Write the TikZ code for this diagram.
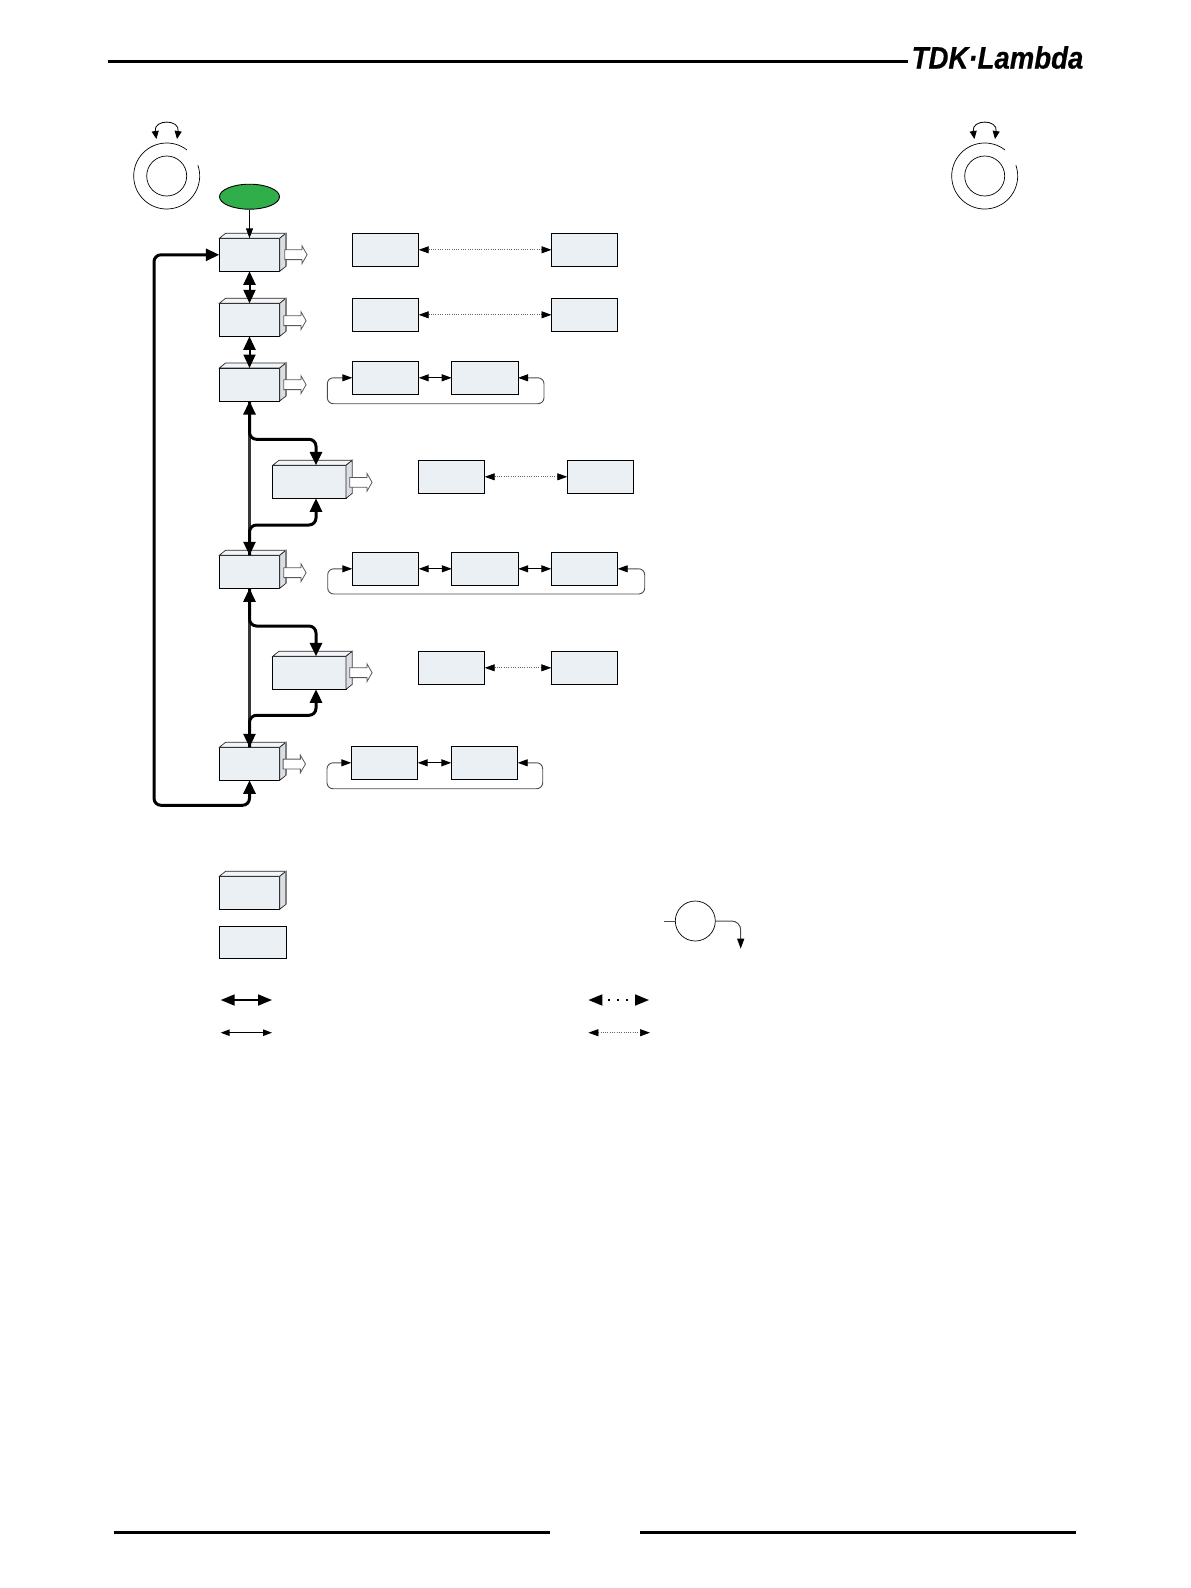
\documentclass[tikz,border=0pt]{standalone}
\usepackage{fontspec}
\newfontfamily\logofont{Liberation Sans}[BoldItalicFeatures={FakeBold=0.6}]
\usetikzlibrary{arrows.meta,shapes.arrows,shapes.geometric}
\definecolor{boxfill}{HTML}{EBF0F5}
\definecolor{startgreen}{HTML}{2FAE49}
\tikzset{
    bigtip/.tip={Triangle[length=13.5pt,width=12pt,color=black]},
    smalltip/.tip={Triangle[length=10pt,width=7pt,color=black]},
    flatbox/.style={draw,line width=0.9pt,fill=boxfill,inner sep=0pt,outer sep=0pt,minimum width=66.4pt,minimum height=33pt},
    cubebox/.style={flatbox,minimum width=60.4pt},
    topface/.style={draw=black!85,line width=0.7pt,fill=boxfill!60},
    sideface/.style={draw=black!85,line width=0.7pt,fill=boxfill!93!black},
    sideedge/.style={draw=black!50,line width=1.2pt},
    hollowarrow/.style={single arrow,draw=black!65,line width=0.8pt,fill=white,inner sep=0pt,text height=9pt,text depth=0pt,minimum height=22.4pt,minimum width=17pt,
        single arrow head extend=4pt,single arrow tip angle=120,anchor=tail},
    knob/.style={circle,draw,line width=0.7pt,inner sep=0pt,minimum size=40pt},
    knobring/.style={line width=0.7pt},
    knobturn/.style={line width=0.8pt,{Triangle[length=8pt,width=7pt]}-{Triangle[length=8pt,width=7pt]}},
    thicklink/.style={line width=3pt,rounded corners=7pt},
    mainlink/.style={line width=2.5pt,color=black!78,{bigtip}-{bigtip}},
    thinlink/.style={line width=1pt,{smalltip}-{smalltip}},
    dotlink/.style={color=black!60,line width=0.7pt,dash pattern=on 0.9pt off 1.4pt,{smalltip}-{smalltip}},
    looplink/.style={color=black!70,line width=0.9pt,rounded corners=6pt,{smalltip}-{smalltip}},
    pagerule/.style={line width=3pt}
}
\begin{document}
\begin{tikzpicture}[x=1pt,y=-1pt]
\useasboundingbox (0,0) rectangle (1191,1588);

% page rules and logo
\draw[pagerule] (108.4,61) -- (908,61);
\draw[pagerule] (113.9,1532.3) -- (549.5,1532.3);
\draw[pagerule] (640.4,1532.3) -- (1076,1532.3);
\node[inner sep=0pt,xscale=0.89,font=\logofont\bfseries\itshape\fontsize{31}{31}\selectfont] (logo) at (997.5,57.5) {TDK·Lambda};

% knobs
\foreach \knobname/\knobx in {knobl/166.7,knobr/984.7}{
    \node[knob] (\knobname) at (\knobx,176) {};
    \draw[knobring] ([shift={(52:33pt)}]\knobname.center) arc[start angle=52,end angle=379,radius=33pt];
    \coordinate (\knobname a) at (\knobx-10.3,139);
    \coordinate (\knobname b) at (\knobx+10.3,139);
    \draw[knobturn] (\knobname a) .. controls +(-3,-20) and +(3,-20) .. (\knobname b);
}

\node[ellipse,draw,line width=0.9pt,fill=startgreen,inner sep=0pt,minimum width=60pt,minimum height=25pt] (start) at (249.5,196.7) {};

% menu blocks
\foreach \boxname/\boxx/\boxy/\boxw in {
    boxa/249.5/254.8/60.4, boxb/249.5/319.8/60.4, boxc/249.5/384.5/60.4,
    suba/309.35/481.8/73.3, boxd/249.5/571.8/60.4, subb/309.35/672.8/73.3,
    boxe/249.5/763.8/60.4, legcube/249.5/892.8/60.4}{
    \node[cubebox,minimum width=\boxw pt] (\boxname) at (\boxx,\boxy) {};
    \draw[topface] (\boxname.north west) -- ++(6.3,-5) -- ++(\boxw,0) -- (\boxname.north east) -- cycle;
    \draw[sideface] (\boxname.north east) -- ++(6.3,-5) -- ++(0,33) -- (\boxname.south east) -- cycle;
    \draw[sideedge] ([shift={(6.3,-5)}]\boxname.north east) -- ++(0,33);
}

% hollow arrows
\foreach \arrowname/\arrowx/\arrowy in {
    harra/284.3/254.7, harrb/283.3/320.7, harrc/283.3/384.7, harrd/349.3/482.3,
    harre/283.3/572.7, harrf/349.3/672.7, harrg/282.7/764}{
    \node[hollowarrow] (\arrowname) at (\arrowx,\arrowy) {};
}

% value blocks
\foreach \valname/\valx/\valy in {
    vala/385.5/249.8, valb/584.7/249.8,
    valc/385.5/314.8, vald/584.7/314.8,
    vale/385.5/377.8, valf/484.9/377.8,
    valg/451.5/476.8, valh/600.5/476.8,
    vali/385.5/568.8, valj/485/568.8, valk/584.5/568.8,
    vall/451.5/667.8, valm/584.5/667.8,
    valn/384.5/762.8, valo/484.5/762.8}{
    \node[flatbox] (\valname) at (\valx,\valy) {};
}

% main column
\draw[line width=1pt,-{smalltip}] (start.south) -- (boxa.north);
\draw[line width=2pt,{bigtip}-{bigtip}] (boxa.south) -- (boxb.north);
\draw[line width=2pt,{bigtip}-{bigtip}] (boxb.south) -- (boxc.north);
\draw[mainlink] (boxc.south) -- (boxd.north);
\draw[mainlink] (boxd.south) -- (boxe.north);

% side branches
\draw[thicklink,-{bigtip}] (boxc.south) |- (316,439.3) -- ([xshift=6.65pt]suba.north);
\draw[thicklink,-{bigtip}] (boxd.north) |- (316,525) -- ([xshift=6.65pt]suba.south);
\draw[thicklink,-{bigtip}] (boxd.south) |- (316,626) -- ([xshift=6.65pt]subb.north);
\draw[thicklink,-{bigtip}] (boxe.north) |- (316,715.3) -- ([xshift=6.65pt]subb.south);
\draw[thicklink,{bigtip}-{bigtip}] (boxe.south) |- (154,805.3) |- (boxa.west);

% value links
\draw[dotlink] (vala.east) -- (valb.west);
\draw[dotlink] (valc.east) -- (vald.west);
\draw[thinlink] (vale.east) -- (valf.west);
\draw[looplink] (vale.west) -| (327.3,403.7) -| (544,377.8) -- (valf.east);
\draw[dotlink] (valg.east) -- (valh.west);
\draw[thinlink] (vali.east) -- (valj.west);
\draw[thinlink] (valj.east) -- (valk.west);
\draw[looplink] (vali.west) -| (327.7,594) -| (644.7,568.8) -- (valk.east);
\draw[dotlink] (vall.east) -- (valm.west);
\draw[thinlink] (valn.east) -- (valo.west);
\draw[looplink] (valn.west) -| (327,788.7) -| (542.7,762.8) -- (valo.east);

% legend
\node[flatbox,minimum width=67.2pt,minimum height=32pt] (legflat) at (252.9,942.3) {};
\node[knob] (legknob) at (695.3,921) {};
\coordinate (legin) at (664.4,921);
\coordinate (legout) at (740.7,948.7);
\draw[color=black!70,line width=1pt] (legin) -- (legknob.west);
\draw[color=black!70,line width=1pt,rounded corners=9pt,-{smalltip}] (legknob.east) -| (legout);
\coordinate (legaa) at (220.7,1000);
\coordinate (legab) at (272,1000);
\coordinate (legba) at (220.7,1032.7);
\coordinate (legbb) at (272,1032.7);
\coordinate (legca) at (588.4,1000);
\coordinate (legcb) at (649,1000);
\coordinate (legda) at (588.4,1032.7);
\coordinate (legdb) at (650,1032.7);
\draw[line width=1.8pt,{Triangle[length=14pt,width=11pt]}-{Triangle[length=14pt,width=11pt]}] (legaa) -- (legab);
\draw[thinlink,{Triangle[length=9pt,width=6.5pt]}-{Triangle[length=9pt,width=6.5pt]}] (legba) -- (legbb);
\draw[line width=1.8pt,dash pattern=on 1.6pt off 7.4pt,dash phase=2.8pt,{Triangle[length=14pt,width=11pt]}-{Triangle[length=14pt,width=11pt]}] (legca) -- (legcb);
\draw[dotlink] (legda) -- (legdb);
\end{tikzpicture}
\end{document}
